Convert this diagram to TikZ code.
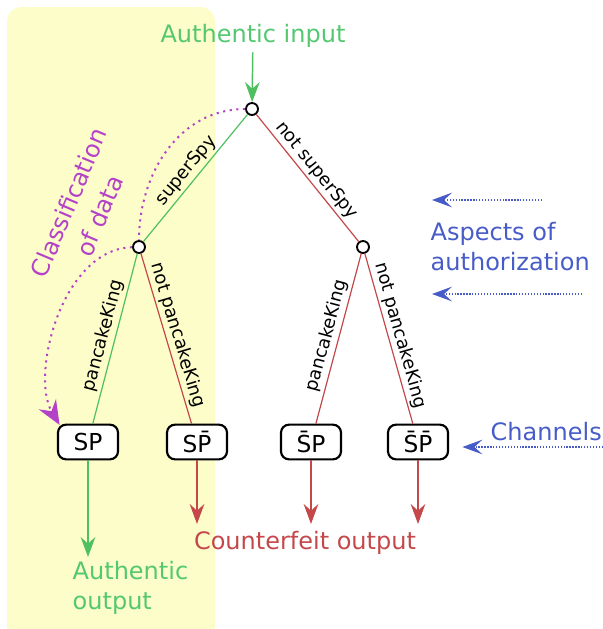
\documentclass[tikz,border=0pt]{standalone}
\usepackage{fontspec}
\setmainfont{DejaVu Sans}
\usetikzlibrary{arrows.meta}
\definecolor{authgreen}{RGB}{78,192,96}
\definecolor{authtext}{RGB}{84,200,112}
\definecolor{fakered}{RGB}{196,72,74}
\definecolor{classpurple}{RGB}{180,66,200}
\definecolor{aspectblue}{RGB}{72,92,200}
\definecolor{zoneyellow}{RGB}{253,253,202}
\tikzset{decision/.style={circle,draw=black,fill=white,line width=1.4pt,minimum size=9pt,inner sep=0pt}}
\tikzset{channel/.style={draw=black,fill=white,rounded corners=6pt,line width=1.6pt,minimum width=45pt,minimum height=26pt,inner sep=1pt,font=\fontsize{17.5}{20}\selectfont}}
\tikzset{bigtext/.style={align=left,font=\fontsize{18}{22.5}\selectfont}}
\tikzset{edgetext/.style={midway,sloped,above,inner sep=2pt,font=\fontsize{13.5}{16}\selectfont}}
\tikzset{outarrow/.style={-{Stealth[length=15pt,width=11pt,inset=5pt]},line width=1.1pt}}
\tikzset{pointer/.style={aspectblue,dash pattern=on 1pt off 1.2pt,line width=1pt,-{Stealth[length=15pt,width=11pt,inset=6pt]}}}

\begin{document}
\begin{tikzpicture}[x=0.75pt,y=-0.75pt]
\useasboundingbox (0,0) rectangle (603,629);
% Authentic zone
\fill[zoneyellow,rounded corners=11pt] (7,7) rectangle (215,640);

% Decisions and channels
\node[decision] (root) at (252,109) {};
\node[decision] (spy) at (139,247) {};
\node[decision] (nospy) at (363,247) {};
\node[channel] (SP) at (88,442) {SP};
\node[channel] (SPn) at (197,442) {S\={P}};
\node[channel] (SnP) at (311,442) {\={S}P};
\node[channel] (SnPn) at (418,442) {\={S}\={P}};

% Tree
\draw[authgreen,line width=0.9pt] (root) -- node[edgetext,black] {superSpy} (spy);
\draw[fakered,line width=0.9pt] (root) -- node[edgetext,black] {not superSpy} (nospy);
\draw[authgreen,line width=0.9pt] (spy) -- node[edgetext,black] {pancakeKing} (SP);
\draw[fakered,line width=0.9pt] (spy) -- node[edgetext,black] {not pancakeKing} (SPn);
\draw[fakered,line width=0.9pt] (nospy) -- node[edgetext,black] {pancakeKing} (SnP);
\draw[fakered,line width=0.9pt] (nospy) -- node[edgetext,black] {not pancakeKing} (SnPn);

% Input and outputs
\node[bigtext,authtext] (input) at (253,36) {Authentic input};
\draw[outarrow,authgreen] (input) -- (root);
\node[bigtext,authtext,anchor=north west] (authout) at (68,557) {Authentic\\output};
\node[bigtext,fakered] (fakeout) at (305,543) {Counterfeit output};
\draw[outarrow,authgreen] (SP) -- (SP |- authout.north);
\coordinate (fakeend) at (0,524);
\foreach \ch in {SPn,SnP,SnPn}
  \draw[outarrow,fakered] (\ch) -- (\ch |- fakeend);

% Classification
\node[bigtext,classpurple,align=center,rotate=67,font=\fontsize{18}{25}\selectfont] (classif) at (84,209) {Classification\\of data};
\draw[classpurple,dash pattern=on 1.6pt off 3.4pt,line width=1.5pt] (root) to[out=180,in=90] (spy);
\draw[classpurple,dash pattern=on 1.6pt off 3.4pt,line width=1.5pt,-{Stealth[length=18pt,width=15pt,inset=6pt]}]
  (spy) .. controls (62,249) and (30,375) .. ([xshift=2pt,yshift=-1pt]SP.north west);

% Aspects of authorization
\node[bigtext,aspectblue,anchor=west] (aspects) at (426,247) {Aspects of\\authorization};
\coordinate (upstart) at (542,200);
\coordinate (upend) at (432,200);
\coordinate (lowstart) at (582,294);
\coordinate (lowend) at (432,294);
\draw[pointer] (upstart) -- (upend);
\draw[pointer] (lowstart) -- (lowend);
\node[bigtext,aspectblue,anchor=west] (channels) at (486,432) {Channels};
\coordinate (chstart) at (603,447);
\draw[pointer,shorten >=10pt] (chstart) -- (SnPn.east |- chstart);
\end{tikzpicture}
\end{document}
